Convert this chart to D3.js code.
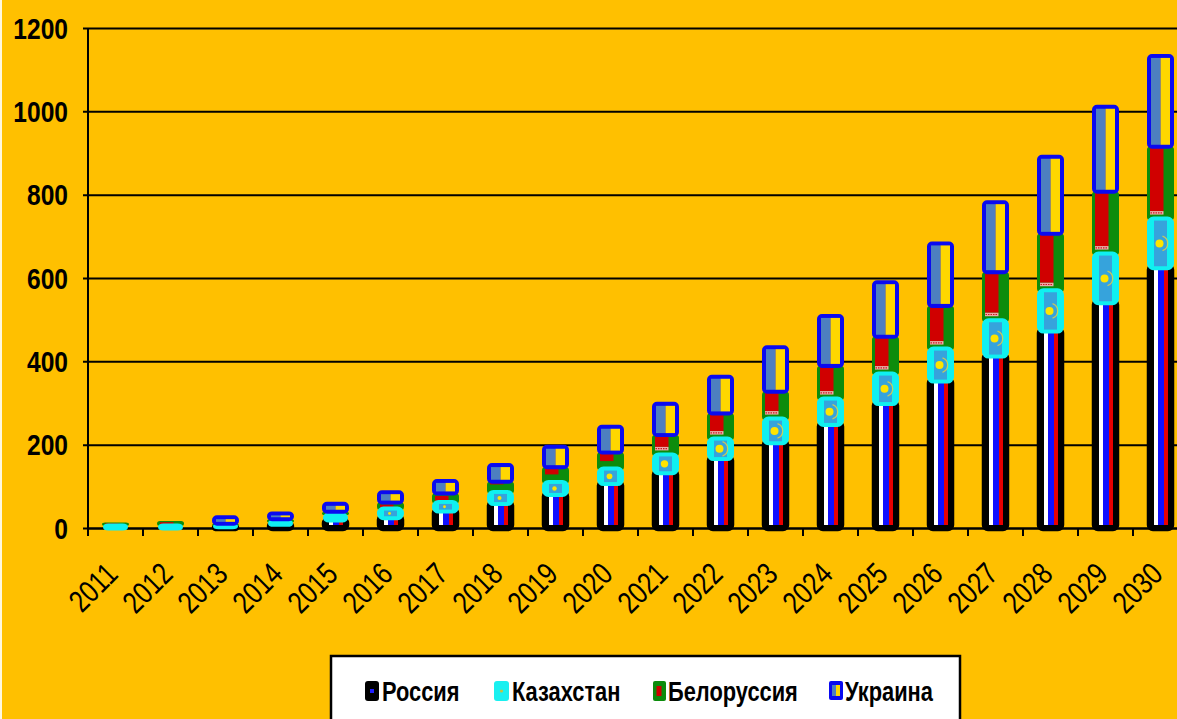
<!DOCTYPE html>
<html>
<head>
<meta charset="utf-8">
<script src="https://cdn.jsdelivr.net/npm/d3@7"></script>
<style>
  html, body { margin: 0; padding: 0; background: #FFC000; }
  svg { display: block; }
</style>
</head>
<body>
<svg id="chart" width="1177" height="719"></svg>
<script>
// ---- data ----
const years = ["2011","2012","2013","2014","2015","2016","2017","2018","2019","2020",
               "2021","2022","2023","2024","2025","2026","2027","2028","2029","2030"];
const russia     = [0, 0, 3, 9, 19, 27, 43, 61, 83, 109, 135, 169, 207, 251, 301, 355, 415, 475, 543, 627];
const kazakhstan = [5, 5, 2, 4, 12, 16, 16, 22, 24, 30, 38, 42, 52, 56, 66, 72, 80, 92, 112, 112];
const belarus    = [8, 12, 5, 8, 8, 18, 24, 28, 39, 42, 50, 64, 68, 82, 92, 106, 119, 139, 152, 176];
const ukraine    = [0, 0, 16, 14, 19, 25, 30, 40, 49, 62, 75, 88, 107, 120, 131, 150, 168, 185, 204, 218];
const yTicks = [0, 200, 400, 600, 800, 1000, 1200];
const seriesNames = ["Россия", "Казахстан", "Белоруссия", "Украина"];

const FONT = "'Liberation Sans', Arial, sans-serif";

const svg = d3.select("#chart");
const W = 1177, H = 719;

svg.append("rect").attr("x", 0).attr("y", 0).attr("width", W).attr("height", H).attr("fill", "#FFC000");
svg.append("rect").attr("x", 0).attr("y", 0).attr("width", 2).attr("height", H).attr("fill", "#fff8e0");

const x = d3.scaleBand().domain(years).range([88, 1188]).paddingInner(0).paddingOuter(0);
const y = d3.scaleLinear().domain([0, 1200]).range([528, 28]);

// gridlines
const yAxis = d3.axisLeft(y).tickValues(yTicks).tickSize(-(W - 83)).tickSizeOuter(0).tickFormat("");
const gy = svg.append("g").attr("transform", "translate(83,0)").call(yAxis);
gy.select(".domain").remove();
gy.selectAll(".tick line").attr("stroke", "#000").attr("stroke-width", 2);

// y labels (squeezed bold, imitating a narrow face)
svg.append("g").selectAll("text").data(yTicks).join("text")
  .attr("transform", d => `translate(68,${y(d)}) scale(0.82,1)`)
  .attr("text-anchor", "end").attr("dy", "0.36em")
  .attr("font-family", FONT).attr("font-weight", "bold").attr("font-size", 30)
  .attr("fill", "#000").text(d => d3.format("d")(d));

// vertical axis line
svg.append("line").attr("x1", 88).attr("x2", 88).attr("y1", y(1200)).attr("y2", 536)
  .attr("stroke", "#000").attr("stroke-width", 2);

// x axis with ticks at category boundaries
const xAxis = d3.axisBottom(x).tickSize(0).tickFormat("");
const gx = svg.append("g").attr("transform", `translate(0,${y(0)})`).call(xAxis);
gx.select(".domain").attr("stroke", "#000").attr("stroke-width", 2);
svg.append("g").selectAll("line").data(years).join("line")
  .attr("x1", d => x(d)).attr("x2", d => x(d))
  .attr("y1", y(0)).attr("y2", y(0) + 8)
  .attr("stroke", "#000").attr("stroke-width", 2);

// x labels rotated
svg.append("g").selectAll("text").data(years).join("text")
  .attr("transform", d => `translate(${x(d) + x.bandwidth() / 2 + 4},576) rotate(-45) scale(0.8,1)`)
  .attr("text-anchor", "end")
  .attr("font-family", FONT).attr("font-size", 31).attr("fill", "#000")
  .text(d => d);

// ---- bars (flag-styled stacked columns) ----
const rows = years.map((yr, i) => {
  const r0 = 0, r1 = russia[i];
  const k1 = r1 + kazakhstan[i];
  const b1 = k1 + belarus[i];
  const u1 = b1 + ukraine[i];
  return { yr, r0, r1, k1, b1, u1 };
});

const bars = svg.append("g").selectAll("g").data(rows).join("g")
  .attr("transform", d => `translate(${x(d.yr) + x.bandwidth() / 2},0)`);

// Russia
bars.each(function (d) {
  const g = d3.select(this);
  const top = y(d.r1), bot = y(d.r0);
  const h = bot - top;
  if (d.r1 <= 0) return;
  g.append("rect").attr("x", -10.5).attr("width", 21).attr("y", top).attr("height", Math.max(h, 0.5))
    .attr("rx", 3).attr("fill", "#000").attr("stroke", "#000").attr("stroke-width", 6.5);
  const sh = Math.max(h - 3, 0);
  if (sh > 0) {
    g.append("rect").attr("x", -6.5).attr("width", 4).attr("y", top).attr("height", sh).attr("fill", "#ffffff");
    g.append("rect").attr("x", -2.5).attr("width", 6).attr("y", top).attr("height", sh).attr("fill", "#1010ff");
    g.append("rect").attr("x", 3.5).attr("width", 4).attr("y", top).attr("height", sh).attr("fill", "#e80000");
  }
});

// Belarus
bars.each(function (d) {
  const g = d3.select(this);
  const top = y(d.b1), bot = y(d.k1);
  const h = bot - top;
  if (h <= 0) return;
  g.append("rect").attr("x", -13.5).attr("width", 27).attr("y", top).attr("height", h)
    .attr("rx", 3).attr("fill", "#0c8c0c");
  const rh = h - 9;
  if (rh > 1) {
    g.append("rect").attr("x", -10.5).attr("width", 13.5).attr("y", top + 1).attr("height", rh - 1)
      .attr("fill", "#d00000");
    if (h > 20) {
      g.append("rect").attr("x", -10.5).attr("width", 13.5).attr("y", top + rh).attr("height", 3.5)
        .attr("fill", "#f0a8a8");
      g.append("line").attr("x1", -10).attr("x2", 2.5).attr("y1", top + rh + 1.75).attr("y2", top + rh + 1.75)
        .attr("stroke", "#c02020").attr("stroke-width", 1.2).attr("stroke-dasharray", "1.5,1");
    }
  } else if (h > 2) {
    g.append("rect").attr("x", -10.5).attr("width", 13.5).attr("y", top + h * 0.25).attr("height", h * 0.5)
      .attr("fill", "#d00000");
  }
});

// Kazakhstan
bars.each(function (d) {
  const g = d3.select(this);
  const top = y(d.k1), bot = y(d.r1);
  const h = bot - top;
  if (h <= 0) return;
  const small = h <= 5;
  g.append("rect").attr("x", -10).attr("width", 20).attr("y", top).attr("height", h)
    .attr("rx", 3).attr("fill", small ? "#0c8c0c" : "#36a3dc")
    .attr("stroke", "#10f0f0").attr("stroke-width", small ? 5 : 7);
  const ih = h - 1;
  if (ih > 4) {
    g.append("rect").attr("x", -6.5).attr("width", 13).attr("y", top + 0.5).attr("height", ih)
      .attr("fill", "#36a3dc");
    const rr = Math.min(4, ih / 4);
    const cy = top + h / 2;
    g.append("circle").attr("cx", -1).attr("cy", cy).attr("r", rr).attr("fill", "#ffe400");
    if (ih > 16) {
      g.append("path")
        .attr("d", `M ${2} ${cy - rr * 1.8} A ${rr * 1.9} ${rr * 1.9} 0 0 1 ${2} ${cy + rr * 1.8}`)
        .attr("fill", "none").attr("stroke", "#e8d040").attr("stroke-width", 1.3).attr("opacity", 0.8);
    }
  }
});

// Ukraine
bars.each(function (d) {
  const g = d3.select(this);
  const top = y(d.u1), bot = y(d.b1);
  const h = bot - top;
  if (h <= 0) return;
  g.append("rect").attr("x", -11.5).attr("width", 23).attr("y", top).attr("height", h)
    .attr("rx", 3).attr("fill", "#0a0af0").attr("stroke", "#0a0af0").attr("stroke-width", 4);
  const ih = h - 4;
  if (ih > 0.5) {
    g.append("rect").attr("x", -9.5).attr("width", 9.5).attr("y", top + 2).attr("height", ih)
      .attr("fill", "#4d7fc0");
    g.append("rect").attr("x", 0).attr("width", 9.5).attr("y", top + 2).attr("height", ih)
      .attr("fill", "#ffd700");
  }
});

// ---- legend ----
const lg = svg.append("g");
lg.append("rect").attr("x", 331).attr("y", 656).attr("width", 629).attr("height", 80)
  .attr("fill", "#fff").attr("stroke", "#000").attr("stroke-width", 2.5);

const markerX = [365, 494, 653, 829];
const textX = [382, 512, 668, 845];
const items = lg.selectAll("g.item").data(seriesNames).join("g").attr("class", "item");

items.each(function (d, i) {
  const g = d3.select(this).append("g").attr("transform", `translate(${markerX[i]},681)`);
  if (i === 0) {
    g.append("rect").attr("width", 14).attr("height", 20).attr("rx", 3).attr("fill", "#000");
    g.append("rect").attr("x", 5).attr("y", 8).attr("width", 4).attr("height", 4).attr("fill", "#2020ff");
  } else if (i === 1) {
    g.append("rect").attr("width", 15).attr("height", 20).attr("rx", 3).attr("fill", "#19f0f0");
    g.append("circle").attr("cx", 7.5).attr("cy", 10).attr("r", 1.6).attr("fill", "#c8c040");
  } else if (i === 2) {
    g.append("rect").attr("width", 13).attr("height", 20).attr("rx", 2).attr("fill", "#0c8c0c");
    g.append("rect").attr("x", 3.5).attr("y", 5).attr("width", 5).attr("height", 10).attr("fill", "#d00000");
  } else {
    g.append("rect").attr("width", 14).attr("height", 19).attr("rx", 2).attr("fill", "#0a0af0");
    g.append("rect").attr("x", 3).attr("y", 4).attr("width", 4).attr("height", 11).attr("fill", "#4d7fc0");
    g.append("rect").attr("x", 7).attr("y", 4).attr("width", 4).attr("height", 11).attr("fill", "#ffd700");
  }
  d3.select(this).append("text")
    .attr("transform", `translate(${textX[i]},701) scale(0.78,1)`)
    .attr("font-family", FONT).attr("font-weight", "bold").attr("font-size", 28)
    .attr("fill", "#000").text(d);
});
</script>
</body>
</html>
